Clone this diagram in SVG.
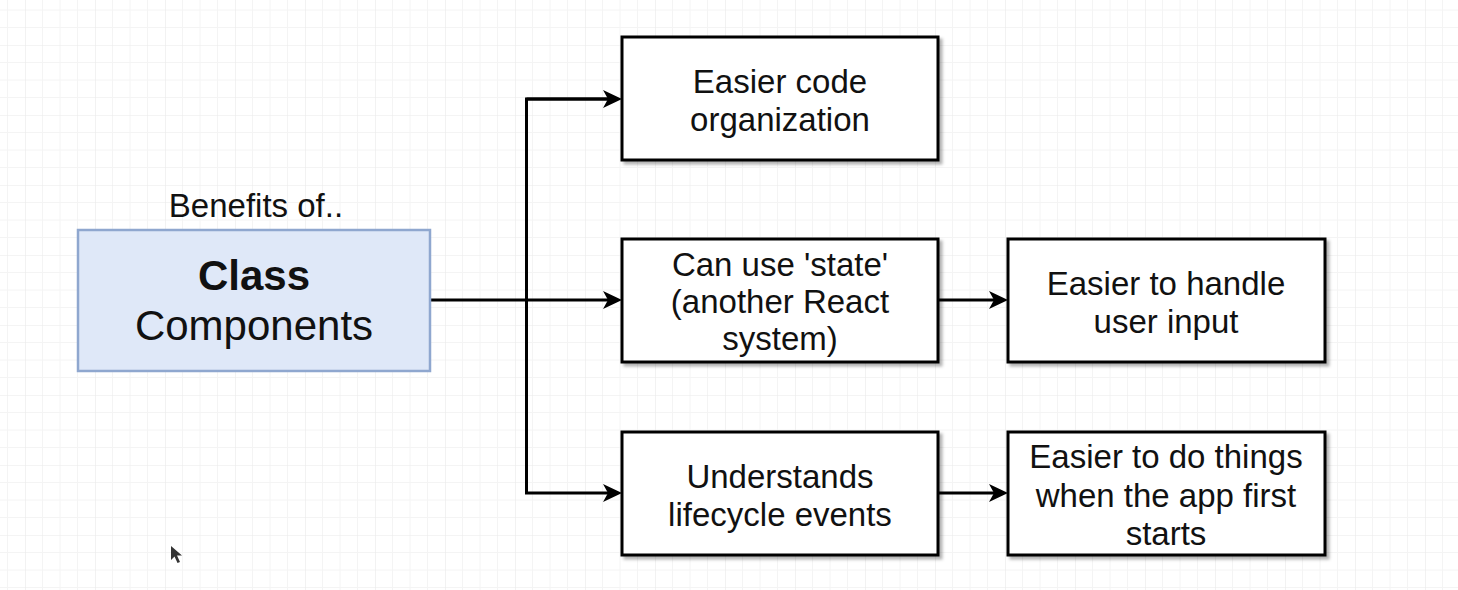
<svg xmlns="http://www.w3.org/2000/svg" width="1458" height="590" viewBox="0 0 1458 590">
  <defs>
    <pattern id="grid" x="25" y="45" width="70" height="70" patternUnits="userSpaceOnUse">
      <path d="M17.5 0V70M35 0V70M52.5 0V70M0 17.5H70M0 35H70M0 52.5H70" stroke="#f4f4f4" stroke-width="1" fill="none"/>
      <path d="M0 0V70M0 0H70" stroke="#eaeaea" stroke-width="1.2" fill="none"/>
    </pattern>
    <filter id="shadow" x="-5%" y="-5%" width="115%" height="120%">
      <feDropShadow dx="3" dy="3" stdDeviation="1.5" flood-color="#000" flood-opacity="0.3"/>
    </filter>
    <marker id="arrow" markerUnits="userSpaceOnUse" markerWidth="19" markerHeight="18" refX="13" refY="9" orient="auto">
      <path d="M0,0 L19,9 L0,18 L5,9 Z" fill="#000"/>
    </marker>
  </defs>
  <style>
    .box { fill: #fff; stroke: #000; stroke-width: 3; filter: url(#shadow); }
    .main { fill: #dfe8f8; stroke: #8fa7cf; stroke-width: 2.5; }
    .t { font-family: "Liberation Sans", Arial, Helvetica, sans-serif; font-size: 33px; fill: #111; text-anchor: middle; }
    .big { font-size: 42px; }
    .bold { font-weight: bold; }
    .conn { fill: none; stroke: #000; stroke-width: 3; }
  </style>

  <rect x="0" y="0" width="1458" height="590" fill="#fff"/>
  <rect x="0" y="0" width="1458" height="590" fill="url(#grid)"/>

  <g id="connectors">
    <path class="conn" d="M430 300 H616" marker-end="url(#arrow)"/>
    <path class="conn" d="M616 99 H526.5 V493 H616" marker-end="url(#arrow)"/>
    <path class="conn" d="M526.5 99 H616" marker-end="url(#arrow)"/>
    <path class="conn" d="M938 300 H1002" marker-end="url(#arrow)"/>
    <path class="conn" d="M938 493 H1002" marker-end="url(#arrow)"/>
  </g>

  <g id="node-class">
    <text class="t" x="256" y="217">Benefits of..</text>
    <rect class="main" x="78" y="230" width="352" height="141"/>
    <text class="t big bold" x="254" y="290">Class</text>
    <text class="t big" x="254" y="340">Components</text>
  </g>

  <g id="node-code-org">
    <rect class="box" x="622" y="37" width="316" height="123"/>
    <text class="t" x="780" y="93">Easier code</text>
    <text class="t" x="780" y="131">organization</text>
  </g>

  <g id="node-state">
    <rect class="box" x="622" y="239" width="316" height="123"/>
    <text class="t" x="780" y="276">Can use 'state'</text>
    <text class="t" x="780" y="313">(another React</text>
    <text class="t" x="780" y="350">system)</text>
  </g>

  <g id="node-lifecycle">
    <rect class="box" x="622" y="432" width="316" height="123"/>
    <text class="t" x="780" y="488">Understands</text>
    <text class="t" x="780" y="526">lifecycle events</text>
  </g>

  <g id="node-user-input">
    <rect class="box" x="1008" y="239" width="317" height="123"/>
    <text class="t" x="1166" y="295">Easier to handle</text>
    <text class="t" x="1166" y="333">user input</text>
  </g>

  <g id="node-app-start">
    <rect class="box" x="1008" y="432" width="317" height="123"/>
    <text class="t" x="1166" y="468">Easier to do things</text>
    <text class="t" x="1166" y="507">when the app first</text>
    <text class="t" x="1166" y="545">starts</text>
  </g>

  <g id="cursor">
    <path d="M171 546 V560 L174.5 556.5 L177.5 563 L180 562 L177 555.5 L182 555.5 Z" fill="#111" opacity="0.85"/>
  </g>
</svg>
